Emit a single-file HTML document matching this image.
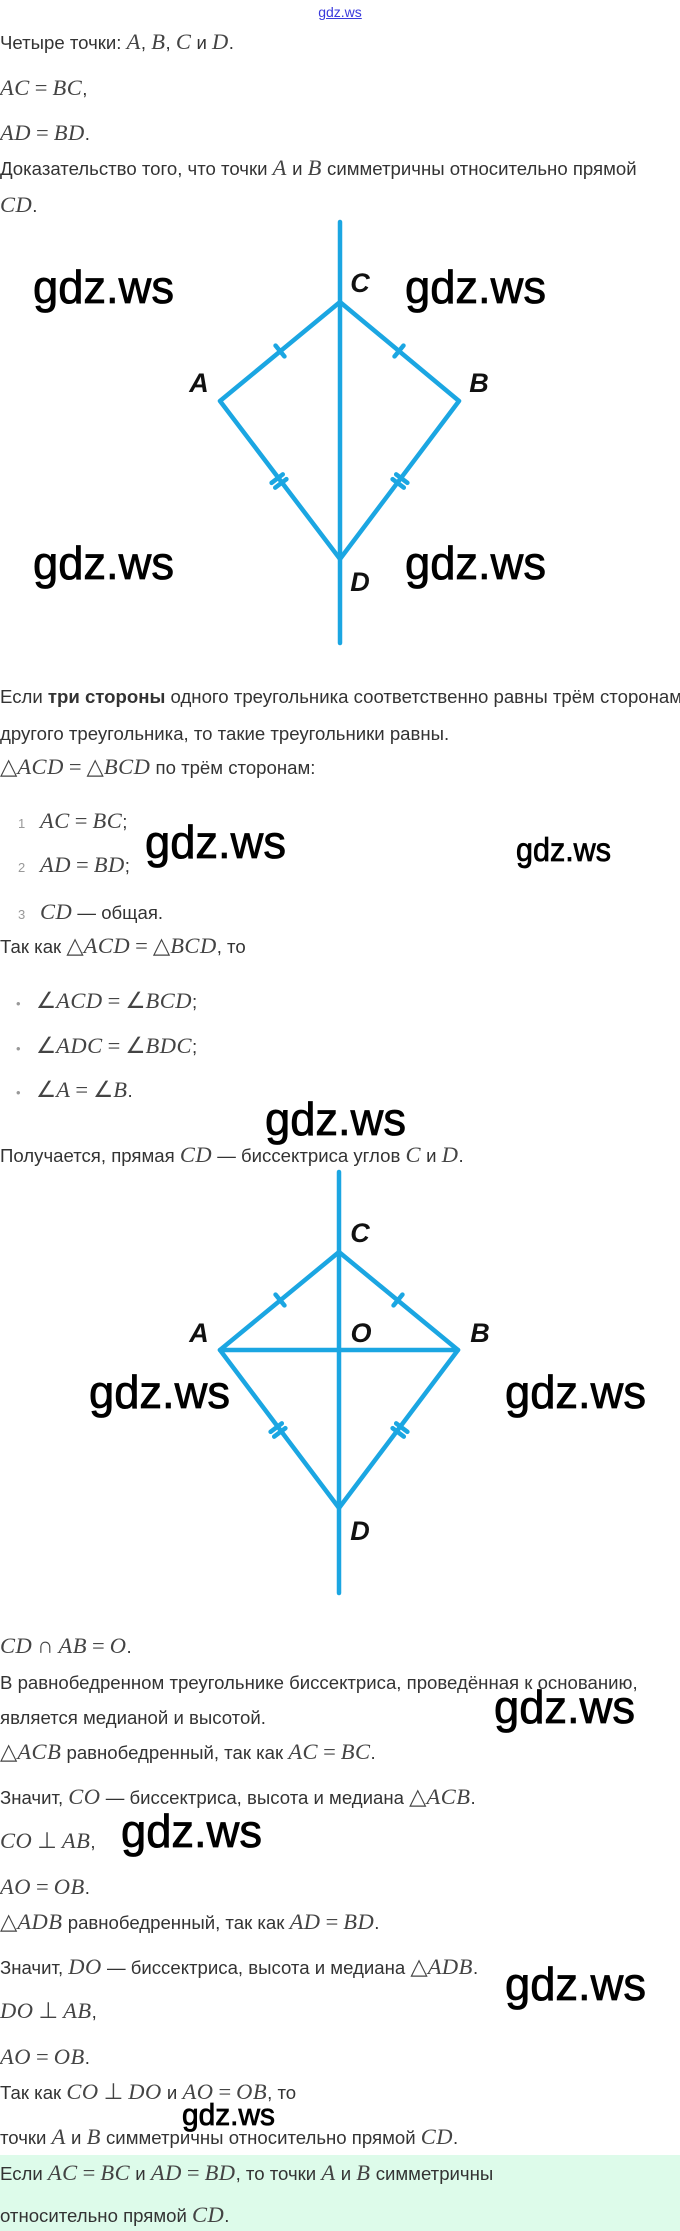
<!DOCTYPE html>
<html><head><meta charset="utf-8">
<style>
html,body{margin:0;padding:0;background:#fff}
body{width:680px;height:2231px;position:relative;overflow:hidden;font-family:"Liberation Sans","DejaVu Sans",sans-serif;color:#333;font-size:18.6px}
.l{position:absolute;left:0;white-space:nowrap;line-height:24px;height:24px}
.m{font-family:"Liberation Serif",serif;font-style:italic;font-size:22.5px;color:#444;letter-spacing:0.5px}
.u{font-family:"Liberation Serif",serif;font-size:22.5px;color:#444}
.e{font-family:"Liberation Serif",serif;font-size:22.5px;color:#444;margin:0 5px}
.n{color:#999;font-size:13px;display:inline-block;width:40px;text-indent:18px}
.b{color:#999;font-size:13px;display:inline-block;width:36px;text-indent:16px}
.green{position:absolute;left:0;top:2155px;width:680px;height:76px;background:#ddfbea}
svg{position:absolute;left:0;top:0}
</style></head><body>
<div class="l" style="top:0;width:680px;text-align:center;font-size:14px;color:#3b3bdc;text-decoration:underline">gdz.ws</div>
<div class="l" style="top:30px">Четыре точки: <span class="m">A</span>, <span class="m">B</span>, <span class="m">C</span> и <span class="m">D</span>.</div>
<div class="l" style="top:76px"><span class="m">AC</span><span class="e">=</span><span class="m">BC</span>,</div>
<div class="l" style="top:121px"><span class="m">AD</span><span class="e">=</span><span class="m">BD</span>.</div>
<div class="l" style="top:156px">Доказательство того, что точки <span class="m">A</span> и <span class="m">B</span> симметричны относительно прямой</div>
<div class="l" style="top:193px"><span class="m">CD</span>.</div>

<div class="l" style="top:685px">Если <b>три стороны</b> одного треугольника соответственно равны трём сторонам</div>
<div class="l" style="top:722px">другого треугольника, то такие треугольники равны.</div>
<div class="l" style="top:755px"><span class="u">△</span><span class="m">ACD</span><span class="e">=</span><span class="u">△</span><span class="m">BCD</span> по трём сторонам:</div>
<div class="l" style="top:809px"><span class="n">1</span><span class="m">AC</span><span class="e">=</span><span class="m">BC</span>;</div>
<div class="l" style="top:853px"><span class="n">2</span><span class="m">AD</span><span class="e">=</span><span class="m">BD</span>;</div>
<div class="l" style="top:900px"><span class="n">3</span><span class="m">CD</span> — общая.</div>
<div class="l" style="top:934px">Так как <span class="u">△</span><span class="m">ACD</span><span class="e">=</span><span class="u">△</span><span class="m">BCD</span>, то</div>
<div class="l" style="top:989px"><span class="b">•</span><span class="u">∠</span><span class="m">ACD</span><span class="e">=</span><span class="u">∠</span><span class="m">BCD</span>;</div>
<div class="l" style="top:1034px"><span class="b">•</span><span class="u">∠</span><span class="m">ADC</span><span class="e">=</span><span class="u">∠</span><span class="m">BDC</span>;</div>
<div class="l" style="top:1078px"><span class="b">•</span><span class="u">∠</span><span class="m">A</span><span class="e">=</span><span class="u">∠</span><span class="m">B</span>.</div>
<div class="l" style="top:1143px">Получается, прямая <span class="m">CD</span> — биссектриса углов <span class="m">C</span> и <span class="m">D</span>.</div>

<div class="l" style="top:1634px"><span class="m">CD</span><span class="e">∩</span><span class="m">AB</span><span class="e">=</span><span class="m">O</span>.</div>
<div class="l" style="top:1671px">В равнобедренном треугольнике биссектриса, проведённая к основанию,</div>
<div class="l" style="top:1706px">является медианой и высотой.</div>
<div class="l" style="top:1740px"><span class="u">△</span><span class="m">ACB</span> равнобедренный, так как <span class="m">AC</span><span class="e">=</span><span class="m">BC</span>.</div>
<div class="l" style="top:1785px">Значит, <span class="m">CO</span> — биссектриса, высота и медиана <span class="u">△</span><span class="m">ACB</span>.</div>
<div class="l" style="top:1829px"><span class="m">CO</span><span class="e">⊥</span><span class="m">AB</span>,</div>
<div class="l" style="top:1875px"><span class="m">AO</span><span class="e">=</span><span class="m">OB</span>.</div>
<div class="l" style="top:1910px"><span class="u">△</span><span class="m">ADB</span> равнобедренный, так как <span class="m">AD</span><span class="e">=</span><span class="m">BD</span>.</div>
<div class="l" style="top:1955px">Значит, <span class="m">DO</span> — биссектриса, высота и медиана <span class="u">△</span><span class="m">ADB</span>.</div>
<div class="l" style="top:1999px"><span class="m">DO</span><span class="e">⊥</span><span class="m">AB</span>,</div>
<div class="l" style="top:2045px"><span class="m">AO</span><span class="e">=</span><span class="m">OB</span>.</div>
<div class="l" style="top:2080px">Так как <span class="m">CO</span><span class="e">⊥</span><span class="m">DO</span> и <span class="m">AO</span><span class="e">=</span><span class="m">OB</span>, то</div>
<div class="l" style="top:2125px">точки <span class="m">A</span> и <span class="m">B</span> симметричны относительно прямой <span class="m">CD</span>.</div>
<div class="green"></div>
<div class="l" style="top:2161px">Если <span class="m">AC</span><span class="e">=</span><span class="m">BC</span> и <span class="m">AD</span><span class="e">=</span><span class="m">BD</span>, то точки <span class="m">A</span> и <span class="m">B</span> симметричны</div>
<div class="l" style="top:2203px">относительно прямой <span class="m">CD</span>.</div>

<svg width="680" height="2231" viewBox="0 0 680 2231">
<g stroke="#1ba6e2" stroke-width="4.5" fill="none" stroke-linecap="round" stroke-linejoin="round">
 <line x1="340" y1="222" x2="340" y2="643"/>
 <polyline points="340,302 220,401 340,559 459,401 340,302"/>
 <g transform="translate(280,351) rotate(140.5)"><line x1="0" y1="-7" x2="0" y2="7"/></g>
 <g transform="translate(399,351) rotate(39.8)"><line x1="0" y1="-7" x2="0" y2="7"/></g>
 <g transform="translate(279,481) rotate(52.8)"><line x1="-3" y1="-7" x2="-3" y2="7"/><line x1="3" y1="-7" x2="3" y2="7"/></g>
 <g transform="translate(400,481) rotate(127)"><line x1="-3" y1="-7" x2="-3" y2="7"/><line x1="3" y1="-7" x2="3" y2="7"/></g>
 <line x1="339" y1="1172" x2="339" y2="1593"/>
 <polyline points="339,1252 220,1350 339,1508 458,1350 339,1252"/>
 <line x1="220" y1="1350" x2="458" y2="1350"/>
 <g transform="translate(280,1300) rotate(140.5)"><line x1="0" y1="-7" x2="0" y2="7"/></g>
 <g transform="translate(398,1300) rotate(39.5)"><line x1="0" y1="-7" x2="0" y2="7"/></g>
 <g transform="translate(278,1430) rotate(53)"><line x1="-3" y1="-7" x2="-3" y2="7"/><line x1="3" y1="-7" x2="3" y2="7"/></g>
 <g transform="translate(400,1430) rotate(127)"><line x1="-3" y1="-7" x2="-3" y2="7"/><line x1="3" y1="-7" x2="3" y2="7"/></g>
</g>
<g font-family="'Liberation Sans Narrow','Liberation Sans',sans-serif" font-weight="bold" font-style="italic" font-size="27" fill="#111" text-anchor="middle">
 <text x="360" y="292">C</text>
 <text x="199" y="392">A</text>
 <text x="479" y="392">B</text>
 <text x="360" y="591">D</text>
 <text x="360" y="1242">C</text>
 <text x="199" y="1342">A</text>
 <text x="361" y="1342">O</text>
 <text x="480" y="1342">B</text>
 <text x="360" y="1540">D</text>
</g>
<g font-family="'Liberation Sans',sans-serif" fill="#000" font-size="46" stroke="#000" stroke-width="0.8">
 <text x="33" y="303" textLength="141" lengthAdjust="spacingAndGlyphs">gdz.ws</text>
 <text x="405" y="303" textLength="141" lengthAdjust="spacingAndGlyphs">gdz.ws</text>
 <text x="33" y="579" textLength="141" lengthAdjust="spacingAndGlyphs">gdz.ws</text>
 <text x="405" y="579" textLength="141" lengthAdjust="spacingAndGlyphs">gdz.ws</text>
 <text x="145" y="858" textLength="141" lengthAdjust="spacingAndGlyphs">gdz.ws</text>
 <text x="265" y="1135" textLength="141" lengthAdjust="spacingAndGlyphs">gdz.ws</text>
 <text x="89" y="1408" textLength="141" lengthAdjust="spacingAndGlyphs">gdz.ws</text>
 <text x="505" y="1408" textLength="141" lengthAdjust="spacingAndGlyphs">gdz.ws</text>
 <text x="494" y="1723" textLength="141" lengthAdjust="spacingAndGlyphs">gdz.ws</text>
 <text x="121" y="1847" textLength="141" lengthAdjust="spacingAndGlyphs">gdz.ws</text>
 <text x="505" y="2000" textLength="141" lengthAdjust="spacingAndGlyphs">gdz.ws</text>
 <text x="516" y="861" font-size="33" textLength="95" lengthAdjust="spacingAndGlyphs">gdz.ws</text>
 <text x="182" y="2125" font-size="31" textLength="93" lengthAdjust="spacingAndGlyphs">gdz.ws</text>
</g>
</svg>
</body></html>
